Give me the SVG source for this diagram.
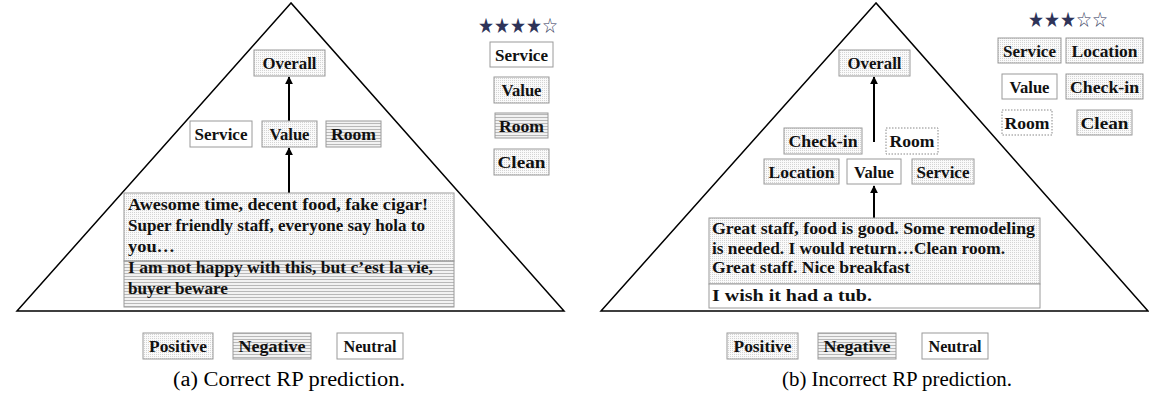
<svg xmlns="http://www.w3.org/2000/svg" width="1149" height="402" viewBox="0 0 1149 402">
<defs>
<pattern id="dots" width="2" height="2" patternUnits="userSpaceOnUse">
<rect width="2" height="2" fill="#fafafa"/>
<rect width="1" height="1" fill="#d4d4d4"/>
</pattern>
<pattern id="hatch" width="3" height="3" patternUnits="userSpaceOnUse">
<rect width="3" height="3" fill="#f2f2f2"/>
<rect width="3" height="1" fill="#b8b8b8"/>
</pattern>
<marker id="arr" viewBox="0 0 10 10" refX="9" refY="5" markerWidth="4" markerHeight="5" orient="auto">
<path d="M0,0 L10,5 L0,10 z" fill="#000"/>
</marker>
<style>
.tri{fill:none;stroke:#000;stroke-width:1.5}
.box{stroke:#9a9a9a;stroke-width:1}
.pos{fill:url(#dots)}
.neg{fill:url(#hatch)}
.neu{fill:#fff}
.dash{fill:#fff;stroke:#888;stroke-width:1;stroke-dasharray:1.5 1.5}
.lbl{font-family:"Liberation Serif",serif;font-weight:bold;font-size:17.5px;fill:#111;text-anchor:middle}
.rev{font-family:"Liberation Serif",serif;font-weight:bold;font-size:17.5px;fill:#111}
.cap{font-family:"Liberation Serif",serif;font-size:20px;fill:#000}
.star{font-family:"DejaVu Sans",sans-serif;font-size:21px;fill:#2e3358}
.edge{stroke:#000;stroke-width:2;fill:none;marker-end:url(#arr)}
</style>
</defs>
<rect width="1149" height="402" fill="#fff"/>

<polygon class="tri" points="291,3 17,311 564,311"/>
<polygon class="tri" points="876,3 601,311 1148,311"/>

<g id="connectors">
<line class="edge" x1="289" y1="193" x2="289" y2="148"/>
<line class="edge" x1="289" y1="121" x2="289" y2="77"/>
<line class="edge" x1="874" y1="218" x2="874" y2="186"/>
<line class="edge" x1="874" y1="142" x2="874" y2="77"/>
</g>

<!-- Left panel -->
<g id="a-overall"><rect class="box pos" x="254" y="50" width="71" height="26"/><text class="lbl" x="289.5" y="69" textLength="54" lengthAdjust="spacingAndGlyphs">Overall</text></g>
<g id="a-service"><rect class="box neu" x="190" y="121" width="62" height="26"/><text class="lbl" x="221" y="140" textLength="53" lengthAdjust="spacingAndGlyphs">Service</text></g>
<g id="a-value"><rect class="box pos" x="262" y="121" width="55" height="26"/><text class="lbl" x="289.5" y="140" textLength="40" lengthAdjust="spacingAndGlyphs">Value</text></g>
<g id="a-room"><rect class="box neg" x="326" y="121" width="55" height="26"/><text class="lbl" x="353.5" y="140" textLength="45" lengthAdjust="spacingAndGlyphs">Room</text></g>
<g id="a-review1"><rect class="box pos" x="124" y="193" width="330" height="68"/>
<text class="rev" x="128" y="210" textLength="300" lengthAdjust="spacingAndGlyphs">Awesome time, decent food, fake cigar!</text>
<text class="rev" x="128" y="231" textLength="297" lengthAdjust="spacingAndGlyphs">Super friendly staff, everyone say hola to</text>
<text class="rev" x="128" y="252" textLength="47" lengthAdjust="spacingAndGlyphs">you…</text></g>
<g id="a-review2"><rect class="box neg" x="124" y="261" width="330" height="46"/>
<text class="rev" x="128" y="273" textLength="305" lengthAdjust="spacingAndGlyphs">I am not happy with this, but c’est la vie,</text>
<text class="rev" x="128" y="294" textLength="100" lengthAdjust="spacingAndGlyphs">buyer beware</text></g>

<g id="a-stars"><text class="star" x="478" y="33" textLength="80" lengthAdjust="spacingAndGlyphs">★★★★☆</text></g>
<g id="a-leg-service"><rect class="box neu" x="490" y="42" width="63" height="25"/><text class="lbl" x="521.5" y="60.5" textLength="53" lengthAdjust="spacingAndGlyphs">Service</text></g>
<g id="a-leg-value"><rect class="box pos" x="494" y="77" width="55" height="26"/><text class="lbl" x="521.5" y="96" textLength="40" lengthAdjust="spacingAndGlyphs">Value</text></g>
<g id="a-leg-room"><rect class="box neg" x="495" y="113" width="53" height="25"/><text class="lbl" x="521.5" y="131.5" textLength="45" lengthAdjust="spacingAndGlyphs">Room</text></g>
<g id="a-leg-clean"><rect class="box pos" x="494" y="149" width="55" height="26"/><text class="lbl" x="521.5" y="168" textLength="48" lengthAdjust="spacingAndGlyphs">Clean</text></g>

<g id="a-positive"><rect class="box pos" x="143" y="333" width="70" height="26"/><text class="lbl" x="178" y="352" textLength="58" lengthAdjust="spacingAndGlyphs">Positive</text></g>
<g id="a-negative"><rect class="box neg" x="233" y="333" width="78" height="26"/><text class="lbl" x="272" y="352" textLength="67" lengthAdjust="spacingAndGlyphs">Negative</text></g>
<g id="a-neutral"><rect class="box neu" x="337" y="333" width="66" height="26"/><text class="lbl" x="370" y="352" textLength="53" lengthAdjust="spacingAndGlyphs">Neutral</text></g>
<text class="cap" x="173" y="386" textLength="232" lengthAdjust="spacingAndGlyphs">(a) Correct RP prediction.</text>

<!-- Right panel -->
<g id="b-overall"><rect class="box pos" x="839" y="50" width="71" height="26"/><text class="lbl" x="874.5" y="69" textLength="54" lengthAdjust="spacingAndGlyphs">Overall</text></g>
<g id="b-checkin"><rect class="box pos" x="784" y="128" width="78" height="26"/><text class="lbl" x="823" y="147" textLength="69" lengthAdjust="spacingAndGlyphs">Check-in</text></g>
<g id="b-room"><rect class="dash" x="886" y="128" width="52" height="26"/><text class="lbl" x="912" y="147" textLength="45" lengthAdjust="spacingAndGlyphs">Room</text></g>
<g id="b-location"><rect class="box pos" x="764" y="159" width="75" height="25"/><text class="lbl" x="801.5" y="177.5" textLength="66" lengthAdjust="spacingAndGlyphs">Location</text></g>
<g id="b-value"><rect class="box neu" x="847" y="159" width="54" height="25"/><text class="lbl" x="874" y="177.5" textLength="40" lengthAdjust="spacingAndGlyphs">Value</text></g>
<g id="b-service"><rect class="box pos" x="912" y="159" width="62" height="25"/><text class="lbl" x="943" y="177.5" textLength="53" lengthAdjust="spacingAndGlyphs">Service</text></g>
<g id="b-review1"><rect class="box pos" x="709" y="218" width="331" height="66"/>
<text class="rev" x="712" y="234" textLength="323" lengthAdjust="spacingAndGlyphs">Great staff, food is good. Some remodeling</text>
<text class="rev" x="712" y="254" textLength="293" lengthAdjust="spacingAndGlyphs">is needed. I would return…Clean room.</text>
<text class="rev" x="712" y="273" textLength="198" lengthAdjust="spacingAndGlyphs">Great staff. Nice breakfast</text></g>
<g id="b-review2"><rect class="box neu" x="709" y="284" width="331" height="24"/>
<text class="rev" x="712" y="301" textLength="160" lengthAdjust="spacingAndGlyphs">I wish it had a tub.</text></g>

<g id="b-stars"><text class="star" x="1028" y="27" textLength="80" lengthAdjust="spacingAndGlyphs">★★★☆☆</text></g>
<g id="b-leg-service"><rect class="box pos" x="998" y="38" width="63" height="25"/><text class="lbl" x="1029.5" y="56.5" textLength="53" lengthAdjust="spacingAndGlyphs">Service</text></g>
<g id="b-leg-location"><rect class="box pos" x="1066" y="38" width="77" height="25"/><text class="lbl" x="1104.5" y="56.5" textLength="66" lengthAdjust="spacingAndGlyphs">Location</text></g>
<g id="b-leg-value"><rect class="box neu" x="1002" y="74" width="55" height="25"/><text class="lbl" x="1029.5" y="92.5" textLength="40" lengthAdjust="spacingAndGlyphs">Value</text></g>
<g id="b-leg-checkin"><rect class="box pos" x="1066" y="74" width="77" height="25"/><text class="lbl" x="1104.5" y="92.5" textLength="69" lengthAdjust="spacingAndGlyphs">Check-in</text></g>
<g id="b-leg-room"><rect class="dash" x="1002" y="110" width="50" height="25"/><text class="lbl" x="1027" y="128.5" textLength="45" lengthAdjust="spacingAndGlyphs">Room</text></g>
<g id="b-leg-clean"><rect class="box pos" x="1077" y="110" width="55" height="25"/><text class="lbl" x="1104.5" y="128.5" textLength="48" lengthAdjust="spacingAndGlyphs">Clean</text></g>

<g id="b-positive"><rect class="box pos" x="727" y="333" width="71" height="26"/><text class="lbl" x="762.5" y="352" textLength="58" lengthAdjust="spacingAndGlyphs">Positive</text></g>
<g id="b-negative"><rect class="box neg" x="818" y="333" width="78" height="26"/><text class="lbl" x="857" y="352" textLength="67" lengthAdjust="spacingAndGlyphs">Negative</text></g>
<g id="b-neutral"><rect class="box neu" x="922" y="333" width="66" height="26"/><text class="lbl" x="955" y="352" textLength="53" lengthAdjust="spacingAndGlyphs">Neutral</text></g>
<text class="cap" x="782" y="386" textLength="230" lengthAdjust="spacingAndGlyphs">(b) Incorrect RP prediction.</text>
</svg>
